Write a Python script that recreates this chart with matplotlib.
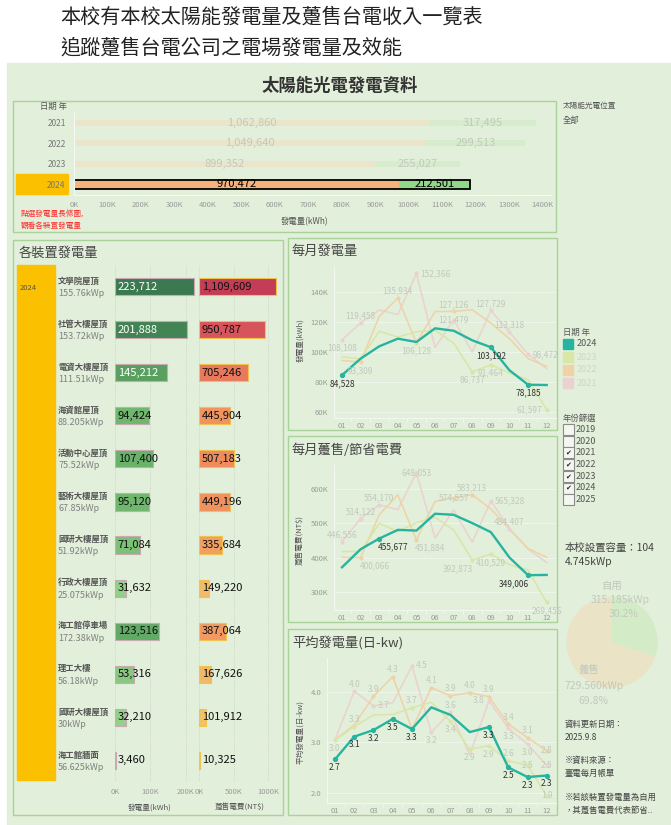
import matplotlib
matplotlib.use('Agg')
import matplotlib.pyplot as plt
from matplotlib.patches import Rectangle
from matplotlib.colors import LinearSegmentedColormap, Normalize
import numpy as np

plt.rcParams['font.family'] = ['Noto Sans CJK TC', 'DejaVu Sans']

# ---- data ----
year_names = ['2021', '2022', '2023', '2024']
sold_kwh = [1062860, 1049640, 899352, 970472]
self_kwh = [317495, 299513, 255027, 212501]

devices = ['文學院屋頂', '社管大樓屋頂', '電資大樓屋頂', '海資館屋頂', '活動中心屋頂', '藝術大樓屋頂',
           '國研大樓屋頂', '行政大樓屋頂', '海工館停車場', '理工大樓', '國研大樓屋頂', '海工館牆面']
device_kwp = ['155.76kWp', '153.72kWp', '111.51kWp', '88.205kWp', '75.52kWp', '67.85kWp',
              '51.92kWp', '25.075kWp', '172.38kWp', '56.18kWp', '30kWp', '56.625kWp']
device_kwh = [223712, 201888, 145212, 94424, 107400, 95120, 71084, 31632, 123516, 53316, 32210, 3460]
device_ntd = [1109609, 950787, 705246, 445904, 507183, 449196, 335684, 149220, 387064, 167626, 101912, 10325]

months = ['01', '02', '03', '04', '05', '06', '07', '08', '09', '10', '11', '12']
line_years = [2021, 2022, 2023, 2024]

gen_2021 = [108108, 119458, 128000, 125000, 152366, 103000, 121479, 100000, 127729, 113318, 98472, 89000]
gen_2022 = [94400, 93309, 123800, 135934, 106128, 127000, 127126, 128200, 119300, 108900, 95600, 90400]
gen_2023 = [96700, 95500, 113800, 110000, 113500, 114500, 106000, 86737, 91464, 86000, 81500, 61597]
gen_2024 = [84528, 95600, 103800, 108900, 106700, 115800, 114200, 107800, 103192, 87800, 78185, 78000]

fee_2021 = [446556, 514122, 554170, 540000, 648053, 457000, 539000, 445000, 565328, 484407, 425000, 386000]
fee_2022 = [401000, 400066, 525000, 583000, 451884, 564000, 574557, 583213, 542000, 483000, 427000, 401000]
fee_2023 = [418000, 418000, 500000, 476000, 502000, 518000, 481000, 392873, 410529, 379000, 364000, 269456]
fee_2024 = [372000, 424700, 455677, 481000, 479000, 528000, 525000, 500700, 474400, 400400, 349006, 349800]

avg_2021 = [3.05, 4.01, 3.72, 3.78, 4.51, 3.20, 3.59, 2.75, 3.82, 3.28, 2.96, 2.54]
avg_2022 = [3.05, 3.34, 3.91, 4.30, 3.26, 4.08, 3.92, 3.98, 3.90, 3.36, 3.09, 2.83]
avg_2023 = [3.04, 3.31, 3.54, 3.55, 3.68, 3.79, 3.41, 2.86, 2.93, 2.63, 2.54, 1.94]
avg_2024 = [2.66, 3.11, 3.24, 3.46, 3.26, 3.69, 3.54, 3.20, 3.30, 2.50, 2.31, 2.34]

pie_names = ['自用', '躉售']
pie_kwp = [315.185, 729.560]

filter_years = ['2019', '2020', '2021', '2022', '2023', '2024', '2025']
filter_checked = [False, False, True, True, True, True, False]

# which points get a data label: (year, month index, where)
gen_marks = [(2021, 0, 'b'), (2021, 1, 'a'), (2022, 1, 'b'), (2022, 3, 'a'), (2021, 4, 'r'),
             (2022, 4, 'b'), (2022, 6, 'a'), (2021, 6, 'c'), (2023, 7, 'b'), (2021, 8, 'a'),
             (2023, 8, 'b'), (2021, 9, 'a'), (2021, 10, 'r'), (2023, 11, 'l'),
             (2024, 0, 'b'), (2024, 8, 'b'), (2024, 10, 'b')]
fee_marks = [(2021, 0, 'a'), (2021, 1, 'a'), (2021, 2, 'a'), (2022, 1, 'br'), (2021, 4, 'c'),
             (2024, 2, 'br'), (2022, 4, 'br'), (2022, 6, 'c'), (2022, 7, 'a'), (2021, 8, 'r'),
             (2023, 7, 'bl'), (2023, 8, 'b'), (2021, 9, 'a'), (2024, 10, 'bl'), (2023, 11, 'b')]
avg_marks = [(2024, m, 'b') for m in [0, 1, 2, 3, 4, 8, 9, 10, 11]] + [
    (2023, 0, 'b'), (2021, 1, 'a'), (2023, 1, 'a'), (2022, 2, 'a'), (2021, 2, 'r'), (2022, 3, 'a'),
    (2021, 4, 'r'), (2023, 4, 'a'), (2021, 5, 'b'), (2022, 5, 'a'), (2022, 6, 'a'), (2021, 6, 'a'),
    (2023, 6, 'b'), (2022, 7, 'a'), (2023, 7, 'b'), (2022, 8, 'a'), (2021, 8, 'l'), (2023, 8, 'b'),
    (2022, 9, 'a'), (2021, 9, 'b'), (2023, 9, 'a'), (2022, 10, 'a'), (2021, 10, 'b'), (2023, 10, 'c'),
    (2022, 11, 'c'), (2021, 11, 'c'), (2023, 11, 'c')]

# ---- style ----
W, H = 671, 825
BG = '#e2efda'
BOX = '#a9d39b'
TICK = '#9a9a9a'
FADE_TXT = '#c2c9bd'
line_colors = {2021: '#ead2d0', 2022: '#efd2a6', 2023: '#d8e6a6', 2024: '#27b49f'}

fig = plt.figure(figsize=(W / 100, H / 100), dpi=100)
bg = fig.add_axes([0, 0, 1, 1])
bg.set_xlim(0, W)
bg.set_ylim(H, 0)
bg.axis('off')


def ax_px(x0, y0, x1, y1):
    a = fig.add_axes([x0 / W, 1 - y1 / H, (x1 - x0) / W, (y1 - y0) / H])
    a.set_facecolor('none')
    return a


def box(x0, y0, x1, y1):
    bg.add_patch(Rectangle((x0, y0), x1 - x0, y1 - y0, fill=False, edgecolor=BOX, lw=1))


def ftext(x, y, s, **kw):
    # figure level text, drawn above every axes
    fig.text(x / W, 1 - y / H, s, **kw)


bg.text(60, 17, '本校有本校太陽能發電量及躉售台電收入一覽表', fontsize=14.5, va='center', color='#222')
bg.text(60, 48, '追蹤躉售台電公司之電場發電量及效能', fontsize=14.5, va='center', color='#222')
bg.add_patch(Rectangle((7, 63), W - 7, H - 63, color=BG, zorder=0))
bg.text(340, 86, '太陽能光電發電資料', fontsize=12.5, fontweight='bold', ha='center', va='center', color='#333')

# ---- yearly totals ----
box(13, 101, 556, 232)
bg.add_patch(Rectangle((16, 174), 52, 20, color='#fbc000'))
bg.text(53, 106, '日期 年', fontsize=6, ha='center', va='center', color='#555')
bg.text(21, 215, '點選發電量長條圖,', fontsize=5.5, va='center', color='#ff3030')
bg.text(21, 226, '觀看各裝置發電量', fontsize=5.5, va='center', color='#ff3030')
bg.text(305, 222, '發電量(kWh)', fontsize=6, ha='center', va='center', color='#555')
bg.text(563, 106, '太陽能光電位置', fontsize=5.5, va='center', color='#555')
bg.text(563, 121, '全部', fontsize=6, va='center', color='#555')

axt = ax_px(74, 112.5, 551, 194.5)
yy = np.arange(len(year_names))
for i in yy:
    cur = year_names[i] == '2024'
    h = 0.42 if cur else 0.28
    axt.barh(i, sold_kwh[i], height=h, color='#f5b27a' if cur else '#ebe5cb')
    axt.barh(i, self_kwh[i], left=sold_kwh[i], height=h, color='#92d68a' if cur else '#d5edcd')
    if cur:
        axt.barh(i, sold_kwh[i] + self_kwh[i], height=h, fill=False, edgecolor='black', lw=1.3)
    c = 'black' if cur else FADE_TXT
    axt.text(sold_kwh[i] / 2, i, f'{sold_kwh[i]:,}', ha='center', va='center', fontsize=8, color=c)
    axt.text(sold_kwh[i] + self_kwh[i] / 2, i, f'{self_kwh[i]:,}', ha='center', va='center',
             fontsize=8, color=c)
axt.set_xlim(0, 1426000)
axt.set_ylim(3.5, -0.5)
xt = np.arange(0, 1400001, 100000)
axt.set_xticks(xt)
axt.set_xticklabels([f'{int(v / 1000)}K' for v in xt], fontsize=5.5, color=TICK)
axt.set_yticks(yy)
axt.set_yticklabels(year_names, fontsize=6, color='#777')
axt.tick_params(length=0, pad=5)
axt.tick_params(axis='y', pad=6)
for s in ['top', 'right']:
    axt.spines[s].set_visible(False)
for s in ['left', 'bottom']:
    axt.spines[s].set_color('#f6f9f3')

# ---- per device ----
box(13, 240, 283, 815)
bg.text(19, 253, '各裝置發電量', fontsize=9.5, va='center', color='#444')
bg.add_patch(Rectangle((17, 265), 38, 515, color='#fbc000'))
bg.text(20, 288, '2024', fontsize=5.5, va='center', color='#555')
bg.text(150, 808, '發電量(kWh)', fontsize=5.5, ha='center', va='center', color='#555')
bg.text(240, 808, '躉售電費(NT$)', fontsize=5.5, ha='center', va='center', color='#555')

green_map = LinearSegmentedColormap.from_list('g', [(0, '#a9dd98'), (0.45, '#6ab56a'), (1, '#3b7a50')])
red_map = LinearSegmentedColormap.from_list('r', [(0, '#f3d06b'), (0.3, '#f1a062'), (0.42, '#f0905e'),
                                                  (0.64, '#e8785e'), (0.86, '#d8545c'), (1, '#c43d57')])
gn = Normalize(0, max(device_kwh))
rn = Normalize(0, max(device_ntd))

axk = ax_px(115, 265, 197, 782)
axn = ax_px(199, 265, 281, 782)
rows = np.arange(len(devices))
axk.barh(rows, device_kwh, height=0.4, color=[green_map(gn(v)) for v in device_kwh],
         edgecolor='#c9a9b3', lw=0.8)
axn.barh(rows, device_ntd, height=0.4, color=[red_map(rn(v)) for v in device_ntd],
         edgecolor='#f0c24e', lw=0.8)
for i in rows:
    axk.annotate(f'{device_kwh[i]:,}', xy=(0, i), xytext=(2, 0), textcoords='offset points',
                 ha='left', va='center', fontsize=8,
                 color='white' if device_kwh[i] > 140000 else '#111')
    axn.annotate(f'{device_ntd[i]:,}', xy=(0, i), xytext=(2, 0), textcoords='offset points',
                 ha='left', va='center', fontsize=8, color='#111')
    axk.annotate(devices[i], xy=(0, i), xycoords=('axes fraction', 'data'), xytext=(-41, 4),
                 textcoords='offset points', ha='left', va='center', fontsize=6,
                 fontweight='bold', color='#555')
    axk.annotate(device_kwp[i], xy=(0, i), xycoords=('axes fraction', 'data'), xytext=(-41, -5),
                 textcoords='offset points', ha='left', va='center', fontsize=6.5, color='#808080')
for a, lim, ticks in [(axk, 231000, [0, 100000, 200000]), (axn, 1188000, [0, 500000, 1000000])]:
    a.set_xlim(0, lim)
    a.set_ylim(11.5, -0.5)
    a.set_xticks(ticks)
    a.set_xticklabels([f'{int(v / 1000)}K' for v in ticks], fontsize=5.5, color=TICK)
    a.set_yticks([])
    a.tick_params(length=0, pad=4)
    a.grid(axis='x', ls=':', color='#c8ccc4', lw=0.6)
    a.set_axisbelow(True)
    for s in a.spines.values():
        s.set_visible(False)

# ---- monthly lines ----
x = np.arange(1, 13)


def draw_lines(ax, series, marks, fmt, lim, ticks, tfmt, xr):
    for yv in line_years:
        ax.plot(x, series[yv], color=line_colors[yv], lw=1.7 if yv == 2024 else 1.1,
                zorder=3 if yv == 2024 else 2)
    off = {'a': (0, 5), 'b': (0, -6), 'c': (0, 0), 'r': (3, 0), 'l': (-3, 0),
           'bl': (-10, -6), 'br': (10, -6)}
    hal = {'a': 'center', 'b': 'center', 'c': 'center', 'r': 'left', 'l': 'right',
           'bl': 'center', 'br': 'center'}
    for yv, m, w in marks:
        v = series[yv][m]
        cur = yv == 2024
        ax.plot(x[m], v, 'o', ms=2.8 if cur else 2, color=line_colors[yv], zorder=3 if cur else 2)
        ax.annotate(fmt(v), xy=(x[m], v), xytext=off[w], textcoords='offset points',
                    ha=hal[w], va='center', fontsize=6, color='#333' if cur else FADE_TXT,
                    zorder=4)
    ax.set_xlim(*xr)
    ax.set_ylim(*lim)
    ax.set_xticks(x)
    ax.set_xticklabels(months, fontsize=5.5, color=TICK)
    ax.set_xticks(np.arange(1.5, 12, 1), minor=True)
    ax.set_yticks(ticks)
    ax.set_yticklabels([tfmt(t) for t in ticks], fontsize=5.5, color=TICK)
    ax.tick_params(axis='both', which='major', length=0, pad=3)
    ax.tick_params(axis='y', pad=4)
    ax.tick_params(axis='x', which='minor', length=3, color='#f4f7f1')
    ax.grid(axis='y', color='#eef5ea', lw=0.8)
    ax.set_axisbelow(True)
    for s in ['top', 'right']:
        ax.spines[s].set_visible(False)
    for s in ['left', 'bottom']:
        ax.spines[s].set_color('#f4f7f1')


gen = dict(zip(line_years, [gen_2021, gen_2022, gen_2023, gen_2024]))
fee = dict(zip(line_years, [fee_2021, fee_2022, fee_2023, fee_2024]))
avg = dict(zip(line_years, [avg_2021, avg_2022, avg_2023, avg_2024]))

box(288, 238, 557, 430)
bg.text(292, 251, '每月發電量', fontsize=9.5, va='center', color='#444')
bg.text(300, 340, '發電量(kWh)', fontsize=5.5, rotation=90, ha='center', va='center', color='#555')
ax1 = ax_px(334, 267, 556, 418)
draw_lines(ax1, gen, gen_marks, lambda v: f'{v:,}', (56000, 156700),
           np.arange(60000, 140001, 20000), lambda t: f'{int(t / 1000)}K', (0.57, 12.5))

box(288, 436, 557, 622)
bg.text(292, 450, '每月躉售/節省電費', fontsize=9.5, va='center', color='#444')
bg.text(300, 540, '躉售電費(NT$)', fontsize=5.5, rotation=90, ha='center', va='center', color='#555')
ax2 = ax_px(334, 465, 556, 610)
draw_lines(ax2, fee, fee_marks, lambda v: f'{v:,}', (247600, 670000),
           np.arange(300000, 600001, 100000), lambda t: f'{int(t / 1000)}K', (0.57, 12.5))

box(288, 629, 557, 815)
bg.text(292, 643, '平均發電量(日-kw)', fontsize=9.5, va='center', color='#444')
bg.text(300, 732, '平均發電量(日-kw)', fontsize=5.5, rotation=90, ha='center', va='center', color='#555')
ax3 = ax_px(326.7, 658, 556, 803)
draw_lines(ax3, avg, avg_marks, lambda v: f'{v:.1f}', (1.796, 4.667),
           [2.0, 3.0, 4.0], lambda t: f'{t:.1f}', (0.57, 12.48))

# ---- legend and filter ----
bg.text(563, 332, '日期 年', fontsize=6, va='center', color='#555')
for k, yv in enumerate([2024, 2023, 2022, 2021]):
    yc = 344 + 13 * k
    bg.add_patch(Rectangle((563, yc - 5), 10, 10, color=line_colors[yv]))
    bg.text(577, yc, str(yv), fontsize=6.5, va='center', color='#555' if yv == 2024 else '#cfd5ca')

bg.text(563, 418, '年份篩選', fontsize=6, va='center', color='#555')
for k, (lab, chk) in enumerate(zip(filter_years, filter_checked)):
    yc = 429.5 + 11.7 * k
    bg.add_patch(Rectangle((563, yc - 5.5), 11, 11, facecolor='#f3f7f0', edgecolor='#8a8a8a', lw=0.8))
    if chk:
        bg.text(568.5, yc, '✔', fontsize=5, ha='center', va='center', color='#222')
    bg.text(576, yc, lab, fontsize=6.5, va='center', color='#555')

# ---- capacity pie ----
bg.text(565, 548, '本校設置容量：104', fontsize=7.5, va='center', color='#444')
bg.text(565, 562, '4.745kWp', fontsize=7.5, va='center', color='#444')
axp = ax_px(566, 596, 658, 688)
axp.pie(pie_kwp, colors=['#d3ebc7', '#ebe3c6'], startangle=90, counterclock=False)
axp.set_xlim(-1.01, 1.01)
axp.set_ylim(-1.01, 1.01)
axp.set_aspect('equal')
share = [v / sum(pie_kwp) * 100 for v in pie_kwp]
ftext(612, 586, pie_names[0], fontsize=7.5, ha='center', va='center', color=FADE_TXT)
ftext(620, 600, f'{pie_kwp[0]:.3f}kWp', fontsize=7.5, ha='center', va='center', color=FADE_TXT)
ftext(624, 614, f'{share[0]:.1f}%', fontsize=7.5, ha='center', va='center', color=FADE_TXT)
ftext(589, 670, pie_names[1], fontsize=7.5, ha='center', va='center', color=FADE_TXT)
ftext(594, 686, f'{pie_kwp[1]:.3f}kWp', fontsize=7.5, ha='center', va='center', color=FADE_TXT)
ftext(593, 701, f'{share[1]:.1f}%', fontsize=7.5, ha='center', va='center', color=FADE_TXT)

bg.text(565, 724, '資料更新日期：', fontsize=6, va='center', color='#444')
bg.text(565, 738, '2025.9.8', fontsize=6, va='center', color='#444')
bg.text(565, 760, '※資料來源：', fontsize=6, va='center', color='#444')
bg.text(565, 773, '臺電每月帳單', fontsize=6, va='center', color='#444')
bg.text(565, 797, '※若該裝置發電量為自用', fontsize=6, va='center', color='#444')
bg.text(565, 810, '，其躉售電費代表節省..', fontsize=6, va='center', color='#444')

fig.savefig('out.png', dpi=100, facecolor='white')
